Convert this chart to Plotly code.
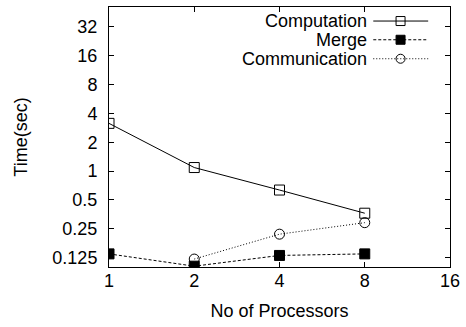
import plotly.graph_objects as go

# ---- data ----
processors = [1, 2, 4, 8]
computation = [3.15, 1.09, 0.635, 0.364]
merge = [0.137, 0.102, 0.132, 0.137]
comm_procs = [2, 4, 8]
communication = [0.121, 0.220, 0.290]
series_names = ["Computation", "Merge", "Communication"]
y_tick_vals = [0.125, 0.25, 0.5, 1, 2, 4, 8, 16, 32]
y_tick_text = ["0.125", "0.25", "0.5", "1", "2", "4", "8", "16", "32"]
x_tick_vals = [1, 2, 4, 8, 16]

FONT = "Liberation Sans, Arial, sans-serif"
FS = 18
styles = [
    dict(dash="solid", symbol="square-open", size=10),
    dict(dash="3px,2px", symbol="square", size=10),
    dict(dash="1px,2px", symbol="circle-open", size=10),
]
xs = [processors, processors, comm_procs]
ys = [computation, merge, communication]

fig = go.Figure()
for name, x, y, st in zip(series_names, xs, ys, styles):
    fig.add_trace(go.Scatter(
        x=x, y=y, mode="lines+markers", name=name, showlegend=False,
        line=dict(color="black", width=1, dash=st["dash"]),
        marker=dict(symbol=st["symbol"], size=st["size"], color="black",
                    line=dict(color="black", width=1)),
    ))

# custom legend (text on left, sample on right), drawn on an overlay axis in [0,1]
leg_rows = [0.946, 0.874, 0.801]
leg_x0, leg_x1, leg_xm, leg_text_x = 0.775, 0.936, 0.855, 0.763
for name, st, ry in zip(series_names, styles, leg_rows):
    fig.add_trace(go.Scatter(
        x=[leg_x0, leg_x1], y=[ry, ry], mode="lines", xaxis="x2", yaxis="y2",
        showlegend=False, hoverinfo="skip",
        line=dict(color="black", width=1, dash=st["dash"]),
    ))
    fig.add_trace(go.Scatter(
        x=[leg_xm], y=[ry], mode="markers", xaxis="x2", yaxis="y2",
        showlegend=False, hoverinfo="skip",
        marker=dict(symbol=st["symbol"], size=9, color="black",
                    line=dict(color="black", width=1)),
    ))
    fig.add_annotation(x=leg_text_x, y=ry, xref="x2 domain", yref="y2",
                       text=name, showarrow=False, xanchor="right",
                       yanchor="middle", font=dict(family=FONT, size=FS, color="black"))

axis_common = dict(
    showline=True, linecolor="black", linewidth=1, mirror="ticks",
    ticks="inside", ticklen=5, tickcolor="black", tickwidth=1,
    showgrid=False, zeroline=False,
    tickfont=dict(family=FONT, size=FS, color="black"),
)

fig.update_layout(
    width=466, height=327,
    margin=dict(l=109, r=11, t=6, b=60),
    paper_bgcolor="white", plot_bgcolor="white",
    font=dict(family=FONT, size=FS, color="black"),
    xaxis=dict(type="log", range=[0, 1.2041], tickvals=x_tick_vals,
               ticktext=[str(v) for v in x_tick_vals], ticklabelstandoff=-3,
               title=dict(text="No of Processors", standoff=14,
                          font=dict(family=FONT, size=FS)),
               **axis_common),
    yaxis=dict(type="log", range=[-1.0, 1.712], tickvals=y_tick_vals,
               ticktext=y_tick_text, ticklabelstandoff=7,
               title=dict(text="Time(sec)", standoff=20,
                          font=dict(family=FONT, size=FS)),
               **axis_common),
    xaxis2=dict(overlaying="x", range=[0, 1], visible=False),
    yaxis2=dict(overlaying="y", range=[0, 1], visible=False),
    showlegend=False,
)

fig.write_html("out.html")
